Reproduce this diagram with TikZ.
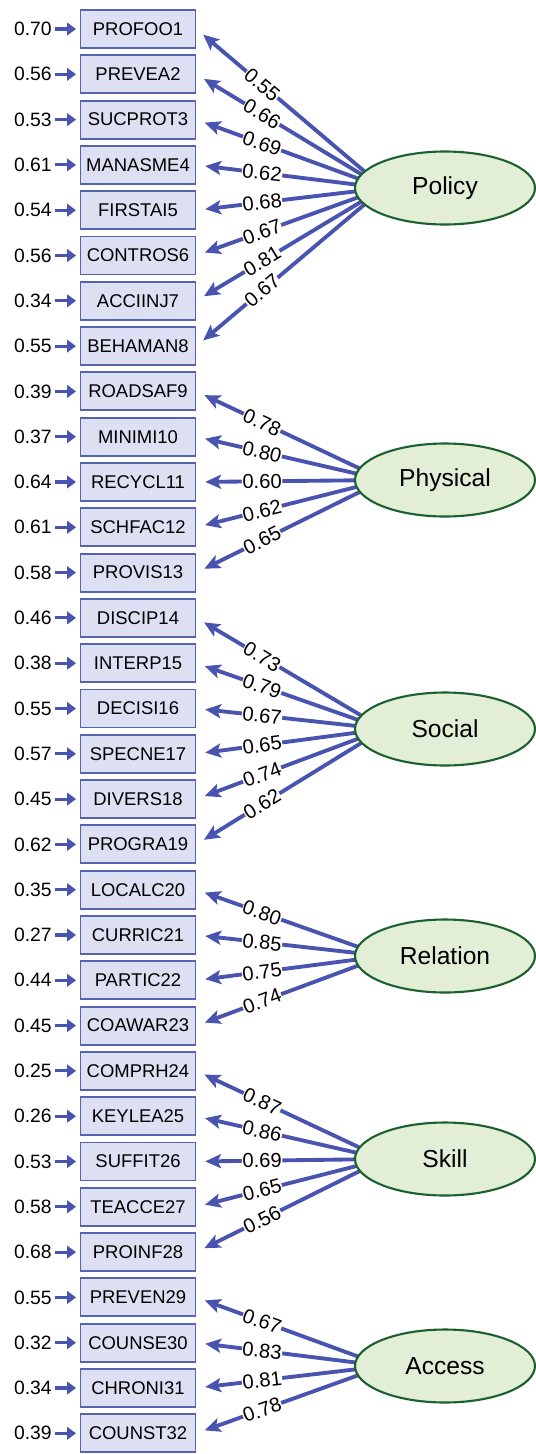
\documentclass[tikz,border=0pt]{standalone}
\usepackage{fontspec}
\setmainfont{Liberation Sans}
\usetikzlibrary{arrows.meta, positioning, shapes.geometric}

\definecolor{pathblue}{RGB}{72,84,176}
\definecolor{boxfill}{RGB}{221,224,242}
\definecolor{boxline}{RGB}{86,98,178}
\definecolor{factfill}{RGB}{226,238,214}
\definecolor{factline}{RGB}{28,96,48}

\begin{document}
\begin{tikzpicture}[x=0.02cm, y=-0.02cm,
  item/.style = {draw=boxline, fill=boxfill, line width=1.1pt, minimum width=2.3cm, minimum height=0.76cm, inner sep=0pt, font=\fontsize{10.5}{12}\selectfont},
  factor/.style = {draw=factline, fill=factfill, line width=1.2pt, ellipse, minimum width=3.6cm, minimum height=1.46cm, inner sep=0pt, font=\fontsize{14}{16}\selectfont},
  errval/.style = {anchor=east, inner sep=0pt, font=\fontsize{11}{13}\selectfont},
  errline/.style = {draw=pathblue, line width=1.8pt, -{Triangle[length=5pt,width=7pt]}, shorten <=1.5pt, shorten >=2pt},
  load/.style = {draw=pathblue, line width=2.2pt, -{Stealth[length=9pt,width=8pt,inset=2pt]}, shorten >=5pt},
  coef/.style = {sloped, pos=0.65, fill=white, inner sep=0.3pt, font=\fontsize{11.5}{13}\selectfont}
]
  \useasboundingbox (0,0) rectangle (536,1454);

  % Hubs of the factors
  \coordinate (policy-hub) at (384,188);
  \coordinate (physical-hub) at (384,480);
  \coordinate (social-hub) at (384,729);
  \coordinate (relation-hub) at (384,956);
  \coordinate (skill-hub) at (384,1159);
  \coordinate (access-hub) at (384,1366);

  % Items, residuals and loadings
  \foreach \i/\name/\err/\load/\fac in {
    1/PROFOO1/0.70/0.55/policy, 2/PREVEA2/0.56/0.66/policy, 3/SUCPROT3/0.53/0.69/policy,
    4/MANASME4/0.61/0.62/policy, 5/FIRSTAI5/0.54/0.68/policy, 6/CONTROS6/0.56/0.67/policy,
    7/ACCIINJ7/0.34/0.81/policy, 8/BEHAMAN8/0.55/0.67/policy,
    9/ROADSAF9/0.39/0.78/physical, 10/MINIMI10/0.37/0.80/physical, 11/RECYCL11/0.64/0.60/physical,
    12/SCHFAC12/0.61/0.62/physical, 13/PROVIS13/0.58/0.65/physical,
    14/DISCIP14/0.46/0.73/social, 15/INTERP15/0.38/0.79/social, 16/DECISI16/0.55/0.67/social,
    17/SPECNE17/0.57/0.65/social, 18/DIVERS18/0.45/0.74/social, 19/PROGRA19/0.62/0.62/social,
    20/LOCALC20/0.35/0.80/relation, 21/CURRIC21/0.27/0.85/relation, 22/PARTIC22/0.44/0.75/relation,
    23/COAWAR23/0.45/0.74/relation,
    24/COMPRH24/0.25/0.87/skill, 25/KEYLEA25/0.26/0.86/skill, 26/SUFFIT26/0.53/0.69/skill,
    27/TEACCE27/0.58/0.65/skill, 28/PROINF28/0.68/0.56/skill,
    29/PREVEN29/0.55/0.67/access, 30/COUNSE30/0.32/0.83/access, 31/CHRONI31/0.34/0.81/access,
    32/COUNST32/0.39/0.78/access}
  {
    \node[item] (b\i) at (138,{29+45.3*(\i-1)}) {\name};
    \node[errval] (e\i) at (52,{29+45.3*(\i-1)}) {\err};
    \draw[errline] (e\i.east) -- (b\i.west);
    \draw[load] (\fac-hub) -- node[coef]{\load} (b\i.east);
  }

  % Factors
  \node[factor] (policy) at (445,188) {Policy};
  \node[factor] (physical) at (445,480) {Physical};
  \node[factor] (social) at (445,729) {Social};
  \node[factor] (relation) at (445,956) {Relation};
  \node[factor] (skill) at (445,1159) {Skill};
  \node[factor] (access) at (445,1366) {Access};

\end{tikzpicture}
\end{document}
